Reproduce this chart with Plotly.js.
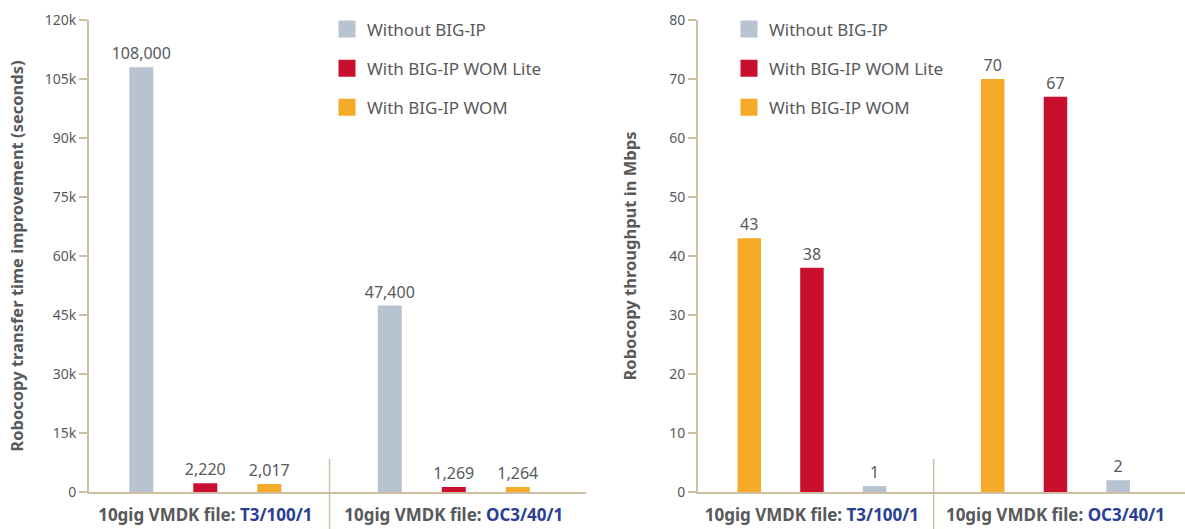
<!DOCTYPE html>
<html>
<head>
<meta charset="utf-8">
<script src="https://cdn.plot.ly/plotly-3.0.1.min.js"></script>
<style>html,body{margin:0;padding:0;background:#fff;}#chart{width:1185px;height:529px;}</style>
</head>
<body>
<div id="chart"></div>
<script>
// ---- data ----
const categories = ["T3/100/1", "OC3/40/1"];
const tickPrefix = "10gig VMDK file: ";
const seriesNames = ["Without BIG-IP", "With BIG-IP WOM Lite", "With BIG-IP WOM"];
// left chart: transfer time improvement (seconds)
const leftWithout = [108000, 47400];
const leftLite = [2220, 1269];
const leftWom = [2017, 1264];
// right chart: throughput (Mbps)
const rightWom = [43, 70];
const rightLite = [38, 67];
const rightWithout = [1, 2];
const leftTitle = "Robocopy transfer time improvement (seconds)";
const rightTitle = "Robocopy throughput in Mbps";

// ---- style ----
const GREY = "#b7c3d1", RED = "#c8102e", ORANGE = "#f5aa28";
const TXT = "#58595b", BLUE = "#2a3e94", AXIS = "#cdbfa4";
const FONT = "Noto Sans, Open Sans, sans-serif";

const tickText = categories.map(c => `<b>${tickPrefix}<span style="color:${BLUE}">${c}</span></b>`);

function bar(y, name, color, xa, ya, legend, rank) {
  return {
    type: "bar", x: categories, y: y, name: name, xaxis: xa, yaxis: ya,
    marker: {color: color}, legend: legend, legendgroup: legend + name, legendrank: rank,
    texttemplate: "%{y:,}", textposition: "outside", constraintext: "none", cliponaxis: false,
    textfont: {size: 16, color: TXT, family: FONT}, hoverinfo: "skip"
  };
}

const data = [
  bar(leftWithout, seriesNames[0], GREY, "x", "y", "legend", 1),
  bar(leftLite, seriesNames[1], RED, "x", "y", "legend", 2),
  bar(leftWom, seriesNames[2], ORANGE, "x", "y", "legend", 3),
  bar(rightWom, seriesNames[2], ORANGE, "x2", "y2", "legend2", 3),
  bar(rightLite, seriesNames[1], RED, "x2", "y2", "legend2", 2),
  bar(rightWithout, seriesNames[0], GREY, "x2", "y2", "legend2", 1)
];

const xCommon = {
  type: "category", tickvals: categories, ticktext: tickText, range: [-0.468, 1.532],
  showline: true, linecolor: AXIS, linewidth: 2, ticks: "", showgrid: false, zeroline: false,
  tickfont: {size: 17, color: TXT, family: FONT}, ticklabelstandoff: 7, fixedrange: true
};
const yCommon = {
  showline: true, linecolor: AXIS, linewidth: 2, ticks: "outside", ticklen: 8, tickwidth: 1.5,
  tickcolor: AXIS, showgrid: false, zeroline: false, fixedrange: true,
  tickfont: {size: 14, color: TXT, family: FONT}, automargin: false
};
const legendCommon = {
  font: {size: 17, color: TXT, family: FONT}, bgcolor: "rgba(0,0,0,0)",
  traceorder: "grouped", tracegroupgap: 14, yanchor: "top", xanchor: "left"
};

const layout = {
  width: 1185, height: 529,
  margin: {l: 0, r: 0, t: 20, b: 37},
  paper_bgcolor: "#fff", plot_bgcolor: "#fff",
  barmode: "group", bargap: 0.2275, bargroupgap: 0.625,
  font: {family: FONT, color: TXT},
  xaxis: Object.assign({}, xCommon, {domain: [89/1185, 586/1185], anchor: "y"}),
  yaxis: Object.assign({}, yCommon, {domain: [0, 1], anchor: "x", range: [0, 120000], dtick: 15000, tickformat: "~s",
    title: {text: "<b>" + leftTitle + "</b>", font: {size: 16.5, color: TXT, family: FONT}, standoff: 17}}),
  xaxis2: Object.assign({}, xCommon, {domain: [698/1185, 1], anchor: "y2"}),
  yaxis2: Object.assign({}, yCommon, {domain: [0, 1], anchor: "x2", range: [0, 80], dtick: 10,
    title: {text: "<b>" + rightTitle + "</b>", font: {size: 16.5, color: TXT, family: FONT}, standoff: 28}}),
  legend: Object.assign({}, legendCommon, {x: 327/1185, y: 1.018}),
  legend2: Object.assign({}, legendCommon, {x: 729/1185, y: 1.018}),
  shapes: [
    {type: "line", xref: "x", yref: "paper", x0: 0.5, x1: 0.5, y0: -0.08, y1: 0.07, line: {color: AXIS, width: 1.5}},
    {type: "line", xref: "x2", yref: "paper", x0: 0.5, x1: 0.5, y0: -0.08, y1: 0.07, line: {color: AXIS, width: 1.5}}
  ]
};

function enlargeSwatches() {
  document.querySelectorAll("#chart .legendpoints path").forEach(p => p.setAttribute("d", "M8.5,8.5H-8.5V-8.5H8.5Z"));
}
Plotly.newPlot("chart", data, layout, {displayModeBar: false, staticPlot: true}).then(enlargeSwatches);
</script>
</body>
</html>
